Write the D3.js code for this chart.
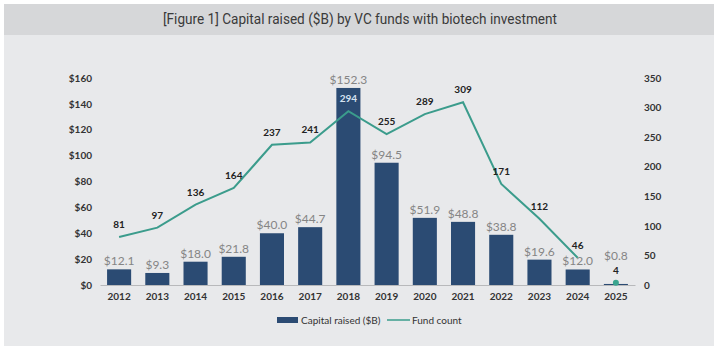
<!DOCTYPE html>
<html>
<head>
<meta charset="utf-8">
<script src="https://cdn.jsdelivr.net/npm/d3@7"></script>
<style>
  html, body { margin: 0; padding: 0; background: #ffffff; }
  svg { display: block; }
</style>
</head>
<body>
<svg id="chart"></svg>
<script>
var years = ["2012","2013","2014","2015","2016","2017","2018","2019","2020","2021","2022","2023","2024","2025"];
var capital = [12.1, 9.3, 18.0, 21.8, 40.0, 44.7, 152.3, 94.5, 51.9, 48.8, 38.8, 19.6, 12.0, 0.8];
var fundCount = [81, 97, 136, 164, 237, 241, 294, 255, 289, 309, 171, 112, 46, 4];
var leftTicks = [0, 20, 40, 60, 80, 100, 120, 140, 160];
var rightTicks = [0, 50, 100, 150, 200, 250, 300, 350];
var partialYear = "2025";   // shown as a lone point, not joined to the line

var width = 720, height = 352;
var barColor = "#2b4b73", lineColor = "#3b9c8c";

var svg = d3.select("#chart").attr("width", width).attr("height", height);

// panel + title band
svg.append("rect").attr("x", 4).attr("y", 4).attr("width", 710).attr("height", 342).attr("fill", "#e8e9eb");
svg.append("rect").attr("x", 4).attr("y", 4).attr("width", 710).attr("height", 31).attr("fill", "#d6d7d9");
svg.append("text")
    .attr("x", 360).attr("y", 24)
    .attr("text-anchor", "middle")
    .attr("textLength", 394)
    .attr("lengthAdjust", "spacingAndGlyphs")
    .style("font-family", "'Roboto', sans-serif")
    .style("font-size", "15px")
    .attr("fill", "#3a3a3a")
    .text("[Figure 1] Capital raised ($B) by VC funds with biotech investment");

var x = d3.scaleBand().domain(years).range([100, 635]).paddingInner(0.37).paddingOuter(0.185);
var yL = d3.scaleLinear().domain([0, 160]).range([285, 78]);
var yR = d3.scaleLinear().domain([0, 350]).range([285, 78]);

var tickFont = "'Lato', 'Open Sans', sans-serif";

// left axis
var leftAxis = svg.append("g").attr("transform", "translate(96,0)")
    .call(d3.axisLeft(yL).tickValues(leftTicks).tickSize(0).tickPadding(4).tickFormat(function(d){ return "$" + d; }));
leftAxis.select(".domain").remove();
leftAxis.selectAll("text").style("font-family", tickFont).style("font-size", "10px").style("font-weight", "bold").attr("fill", "#333");

// right axis
var rightAxis = svg.append("g").attr("transform", "translate(640,0)")
    .call(d3.axisRight(yR).tickValues(rightTicks).tickSize(0).tickPadding(4));
rightAxis.select(".domain").remove();
rightAxis.selectAll("text").style("font-family", tickFont).style("font-size", "10px").style("font-weight", "bold").attr("fill", "#333");

// x axis
var xAxis = svg.append("g").attr("transform", "translate(0,285)")
    .call(d3.axisBottom(x).tickSize(0).tickPadding(8));
xAxis.select(".domain").attr("stroke", "#b8b9bb");
xAxis.selectAll("text").style("font-family", tickFont).style("font-size", "10px").style("font-weight", "bold").attr("fill", "#333");

var rows = years.map(function(y, i){ return { year: y, cap: capital[i], count: fundCount[i] }; });

// bars
svg.selectAll(".bar").data(rows).enter().append("rect")
    .attr("class", "bar")
    .attr("x", function(d){ return x(d.year); })
    .attr("y", function(d){ return yL(d.cap); })
    .attr("width", x.bandwidth())
    .attr("height", function(d){ return Math.max(1, yL(0) - yL(d.cap)); })
    .attr("fill", barColor);

// bar labels
svg.selectAll(".barlabel").data(rows).enter().append("text")
    .attr("class", "barlabel")
    .attr("x", function(d){ return x(d.year) + x.bandwidth() / 2; })
    .attr("y", function(d){
        if (d.year === partialYear) return yR(d.count) - 23;
        return yL(d.cap) - 4;
    })
    .attr("text-anchor", "middle")
    .style("font-family", tickFont)
    .style("font-size", "12px")
    .attr("fill", "#858585")
    .text(function(d){ return "$" + d.cap.toFixed(1); });

// fund count line
var lineRows = rows.filter(function(d){ return d.year !== partialYear; });
var line = d3.line()
    .x(function(d){ return x(d.year) + x.bandwidth() / 2; })
    .y(function(d){ return yR(d.count); });
svg.append("path").datum(lineRows)
    .attr("d", line)
    .attr("fill", "none")
    .attr("stroke", lineColor)
    .attr("stroke-width", 2);

svg.selectAll(".dot").data(rows.filter(function(d){ return d.year === partialYear; })).enter().append("circle")
    .attr("cx", function(d){ return x(d.year) + x.bandwidth() / 2; })
    .attr("cy", function(d){ return yR(d.count); })
    .attr("r", 3)
    .attr("fill", "#3aa58f");

// count labels (light when they sit inside a bar)
svg.selectAll(".countlabel").data(rows).enter().append("text")
    .attr("class", "countlabel")
    .attr("x", function(d){ return x(d.year) + x.bandwidth() / 2; })
    .attr("y", function(d){ return yR(d.count) - 9; })
    .attr("text-anchor", "middle")
    .style("font-family", tickFont)
    .style("font-size", "10px")
    .style("font-weight", "bold")
    .attr("fill", function(d){ return yL(d.cap) < yR(d.count) - 20 ? "#d5e2f0" : "#222"; })
    .text(function(d){ return d.count; });

// legend
var legend = svg.append("g").attr("transform", "translate(277,320)");
legend.append("rect").attr("x", 0).attr("y", -3).attr("width", 21).attr("height", 6).attr("fill", barColor);
legend.append("text").attr("x", 24).attr("y", 3.5)
    .style("font-family", tickFont).style("font-size", "10px").attr("fill", "#333")
    .text("Capital raised ($B)");
legend.append("line").attr("x1", 110).attr("x2", 133).attr("y1", 0).attr("y2", 0)
    .attr("stroke", lineColor).attr("stroke-width", 1.5);
legend.append("text").attr("x", 135).attr("y", 3.5)
    .style("font-family", tickFont).style("font-size", "10px").attr("fill", "#333")
    .text("Fund count");
</script>
</body>
</html>
